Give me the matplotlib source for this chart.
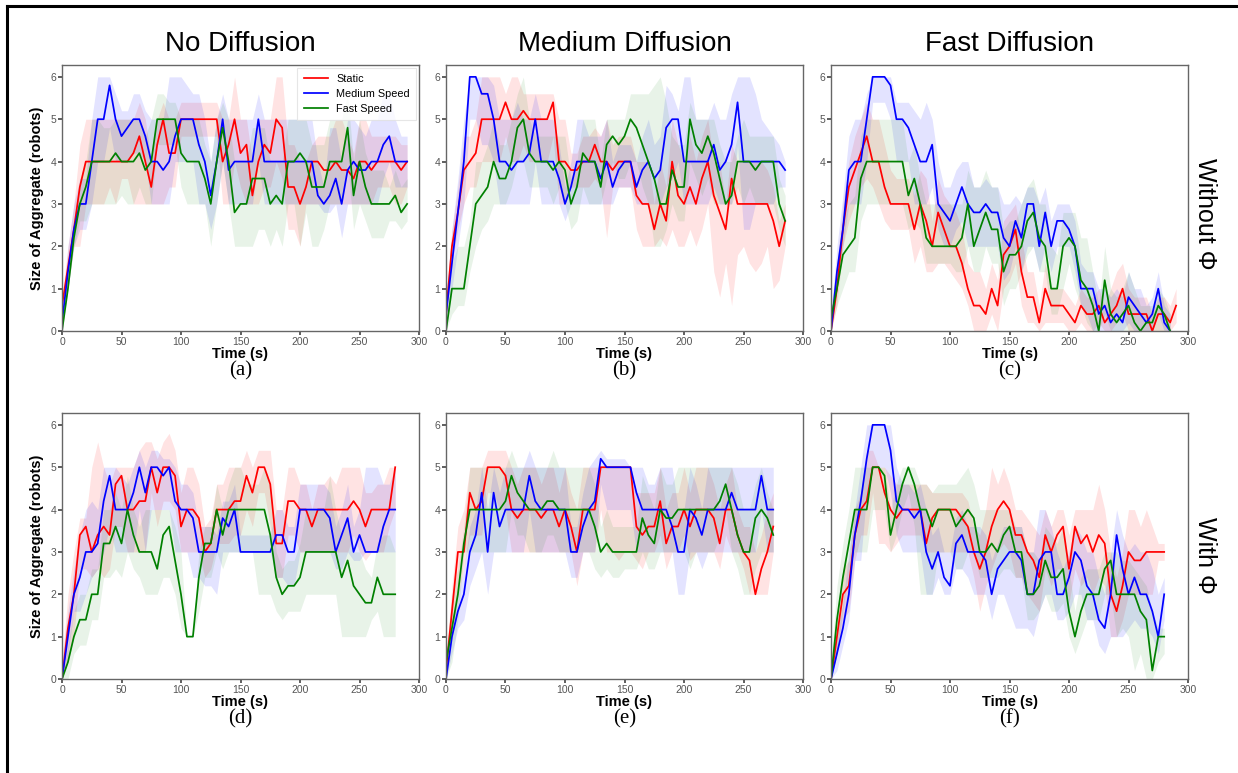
import numpy as np
import matplotlib
matplotlib.use('Agg')
import matplotlib.pyplot as plt
from matplotlib.lines import Line2D

plt.rcParams['font.family'] = ['Liberation Sans', 'DejaVu Sans']

# sampling interval of the runs (s)
step = 5

col_titles = ['No Diffusion', 'Medium Diffusion', 'Fast Diffusion']
row_titles = ['Without \u03a6', 'With \u03a6']
captions = ['(a)', '(b)', '(c)', '(d)', '(e)', '(f)']
series_names = ['Static', 'Medium Speed', 'Fast Speed']
x_ticks = [0, 50, 100, 150, 200, 250, 300]
y_ticks = [0, 1, 2, 3, 4, 5, 6]

# ---- (a) no diffusion, without phi : t = 0..290
a_static = [0.6, 1.5, 2.4, 3.4, 4, 4, 4, 4, 4, 4,
            4, 4, 4.2, 4.6, 4, 3.4, 4.4, 5, 4.2, 4.2,
            5, 5, 5, 5, 5, 5, 5, 4, 4.4, 5,
            4.2, 4.4, 3.2, 4, 4.4, 4.2, 5, 4.8, 3.4, 3.4,
            3, 3.4, 4, 4, 3.8, 3.8, 4, 3.8, 3.8, 3.6,
            4, 4, 3.8, 4, 4, 4, 4, 3.8, 4]
a_static_lo = [0.4, 1, 2, 2, 3, 3, 3, 3, 3.4, 3,
               3.6, 3.6, 3, 3, 3, 3, 3, 3, 3.4, 3.4,
               4.6, 4.6, 4.6, 4.6, 4.6, 4.6, 4.6, 3, 3, 4,
               3.4, 3, 3, 3, 3.4, 3.4, 4, 3.6, 2.4, 2.4,
               2, 3, 3, 3, 3, 3, 3, 3, 3, 3,
               3, 3, 3, 3.4, 3.4, 3.4, 3, 3, 3.4]
a_static_hi = [0.8, 2, 3, 4.4, 5, 5, 5, 5, 5, 5,
               5, 5, 5, 5.4, 5, 4, 5, 5.4, 5, 5,
               5.4, 5.4, 5.4, 5.4, 5.4, 5.4, 5.4, 5, 5, 6,
               5, 5, 4, 5, 5, 5, 6, 6, 4.4, 4.4,
               4, 4, 4.4, 4.6, 4.6, 4.6, 5, 5, 4.6, 4.2,
               5, 5, 4.6, 4.6, 4.6, 4.6, 4.6, 4.4, 4.4]
a_medium = [0.2, 1.4, 2.4, 3, 3, 4, 5, 5, 5.8, 5,
            4.6, 4.8, 5, 5, 4.6, 4, 4, 3.8, 4, 4.6,
            5, 5, 5, 4.4, 4, 3.2, 4, 5, 3.8, 4,
            4, 4, 4, 5, 4, 4, 4, 4, 4, 4,
            4, 4, 4, 3.2, 3, 3.2, 3.6, 3, 3.8, 4,
            3.8, 3.8, 4, 4, 4.4, 4.6, 4, 4, 4]
a_medium_lo = [0, 1, 2, 2.4, 2.4, 3, 4, 4, 4.8, 4,
               4, 4, 4.2, 4.2, 4, 3, 3, 3, 3, 4,
               4, 4, 4, 3, 3, 2.4, 3, 4, 3, 3,
               3, 3, 3, 4, 3, 3, 3, 3, 3, 3,
               3, 3, 3, 3, 2.8, 2.8, 3, 2.2, 3, 3,
               3, 3, 3, 3, 3.6, 4, 3.4, 3.4, 3.4]
a_medium_hi = [0.4, 2, 3, 3.6, 3.6, 5, 6, 6, 6, 5.6,
               5.2, 5.2, 5.6, 5.6, 5.2, 5, 5, 5, 6, 6,
               6, 5.8, 5.6, 5.6, 5, 4, 5, 5.6, 5, 5,
               5, 5, 5, 5.6, 5, 5, 5, 5, 5, 5,
               5, 5, 5, 4, 3.4, 4.8, 4.8, 4, 5, 5,
               4.8, 4.6, 5, 5, 5.6, 5.6, 5, 4.6, 4.6]
a_fast = [0, 1, 2.2, 3, 3.4, 4, 4, 4, 4, 4.2,
          4, 4, 4, 4.2, 3.8, 4, 5, 5, 5, 5,
          4.2, 4, 4, 4, 3.6, 3, 4, 4.8, 4, 2.8,
          3, 3, 3.6, 3.6, 3.6, 3, 3.2, 3, 4, 4,
          4.2, 4, 3.4, 3.4, 3.4, 4, 4, 4, 4.8, 3.2,
          4, 3.4, 3, 3, 3, 3, 3.2, 2.8, 3]
a_fast_lo = [0, 1, 2, 2.6, 2.6, 3, 3, 3, 3, 3,
             3.2, 3, 3, 3.4, 3, 3, 4.4, 4.4, 4.4, 4.4,
             3.4, 3, 3, 3, 3, 2, 3, 4, 3, 2,
             2, 2, 2, 2.4, 2.4, 2, 2.4, 2, 3, 3,
             2, 2.8, 2, 2, 2.4, 3, 3, 3, 4, 2.4,
             3, 2.6, 2.2, 2.2, 2.2, 2.6, 2.6, 2.4, 2.6]
a_fast_hi = [0.4, 1.4, 2.6, 3.6, 4, 5, 5, 4.8, 4.8, 5,
             5, 5, 5, 5, 4.6, 5, 5.6, 5.6, 5.4, 5.4,
             5, 5, 5, 5, 4.4, 4, 5, 5.4, 5, 4,
             4, 4, 4.8, 4.8, 4.8, 4, 4, 4, 5, 5,
             5, 5, 4.4, 4.4, 4.4, 5, 5, 5, 5.6, 4,
             5, 4.2, 3.8, 3.8, 3.8, 3.4, 3.8, 3.4, 3.6]

# ---- (b) medium diffusion, without phi : t = 0..285
b_static = [0.4, 2, 2.8, 3.8, 4, 4.2, 5, 5, 5, 5,
            5.4, 5, 5, 5.2, 5, 5, 5, 5, 5.4, 4,
            4, 3.8, 3.8, 4, 4, 4.4, 4, 4, 3.8, 4,
            4, 4, 3.2, 3, 3, 2.4, 3, 2.6, 4, 3.2,
            3, 3.4, 3, 3.6, 4, 3.2, 2.8, 2.4, 3.6, 3,
            3, 3, 3, 3, 3, 2.6, 2, 2.6]
b_static_lo = [0.2, 1.6, 2.4, 3, 3.4, 3.4, 4, 4, 4, 4,
               4.6, 4, 4, 4.4, 4, 4, 4, 4, 4.6, 3,
               3, 3.4, 3.4, 3.4, 3.4, 3.6, 3.4, 2.2, 3.4, 3.4,
               3.4, 3.4, 2.4, 2, 2, 2, 2.2, 2, 2.4, 2,
               2, 2.4, 2, 2.4, 3, 1.4, 0.8, 1.6, 0.6, 1.8,
               2, 1.6, 1.4, 1.6, 2, 1, 1.2, 2]
b_static_hi = [0.6, 2.4, 3.4, 4.6, 4.6, 5, 6, 6, 6, 6,
               5.6, 6, 6, 5.6, 5.6, 5.6, 5.6, 5.6, 5.6, 5,
               5, 4.2, 4.2, 4.6, 4.6, 4.8, 4.6, 5, 4.4, 4.6,
               4.6, 4.6, 4, 4, 4, 3, 4, 3.4, 5, 4.4,
               4, 4.6, 4, 4.6, 5, 4, 4, 3, 4.4, 4,
               4, 4, 4, 4, 3.8, 3.4, 2.6, 3]
b_medium = [0.4, 1.6, 2.8, 4, 6, 6, 5.6, 5.6, 5, 4,
            4, 3.8, 4, 4, 4.2, 5, 4, 4, 4, 3.6,
            3, 3.4, 4, 4, 4, 4, 3.6, 4, 3.4, 3.8,
            4, 4, 3.4, 3.8, 4, 3.6, 3.8, 4.8, 5, 5,
            4, 4, 4, 4, 4, 4.4, 3.8, 4, 4.4, 5.4,
            4, 4, 4, 4, 4, 4, 4, 3.8]
b_medium_lo = [0, 1, 2, 3, 5, 5, 4.4, 4.4, 4, 3,
               3, 3, 3, 3, 3, 4, 3, 3, 3, 3,
               2.6, 3, 3, 3, 3, 3, 3, 3, 3, 3.4,
               3.4, 3.4, 3, 3, 3, 3, 3, 3.4, 3.6, 4,
               3, 3, 3, 3, 3, 3.4, 3, 3, 3, 4.4,
               2.4, 2.4, 3, 3, 3, 3, 3.4, 3.4]
b_medium_hi = [0.8, 2.4, 3.6, 5, 6, 6, 6, 6, 5.8, 5,
               5, 5, 5.4, 5, 5, 5.6, 5, 5, 5, 4.4,
               3.4, 4, 5, 5, 4.6, 4.6, 4.6, 5, 4, 4.4,
               4.4, 4.4, 4, 4.6, 5, 4.4, 4.6, 5.8, 5.6, 5.2,
               6, 6, 5, 5, 5, 5.4, 5, 5, 5.6, 6,
               6, 6, 5.6, 5, 4.8, 4.6, 4.4, 4]
b_fast = [0, 1, 1, 1, 2, 3, 3.2, 3.4, 4, 3.6,
          3.6, 4, 4.8, 5, 4.2, 4, 4, 4, 3.8, 4,
          3.8, 3, 3.4, 4.2, 4, 4, 3.4, 4.4, 4.6, 4.4,
          4.6, 5, 4.8, 4.4, 4, 3.6, 3, 3, 3.8, 3.4,
          3.4, 5, 4.4, 4.2, 4.6, 4.2, 3.6, 3, 3.2, 4,
          4, 4, 3.8, 4, 4, 4, 3, 2.6]
b_fast_lo = [0, 0.4, 0.6, 0.6, 1.4, 2, 2.4, 2.6, 3, 3,
             3, 3.4, 4, 4, 3.4, 3.4, 3.4, 3.4, 3, 3.4,
             3, 2.4, 2.6, 3.4, 3, 3, 3, 3.6, 4, 3.6,
             3.6, 4, 4, 3.4, 3, 2, 2, 2.4, 3, 2.6,
             2.6, 4, 3.6, 3.2, 3.6, 3, 3, 3, 3, 3.4,
             3, 3.4, 3, 3, 3, 3, 2.4, 2]
b_fast_hi = [0.4, 1.6, 2, 2, 2.6, 4, 4, 4.4, 5, 4.4,
             4.4, 5, 5.6, 6, 5, 4.6, 4.6, 4.6, 4.6, 4.6,
             4.6, 3.6, 4, 5, 5, 5, 4, 5, 5, 5,
             5, 5.6, 5.6, 5.6, 5.6, 5.8, 6, 5.4, 4.6, 4.4,
             4.4, 5.4, 5, 5, 5, 5, 4.4, 4, 4, 4.6,
             5, 4.6, 4.6, 4.6, 4.6, 4.6, 3.6, 3.2]

# ---- (c) fast diffusion, without phi : t = 0..290 / 0..285
c_static = [0, 1, 2.4, 3.4, 3.8, 4.2, 4.6, 4, 4, 3.4,
            3, 3, 3, 3, 2.4, 3, 2.6, 2, 2.8, 2.4,
            2, 2, 1.6, 1, 0.6, 0.6, 0.4, 1, 0.6, 1.8,
            2, 2.4, 1.4, 0.8, 0.8, 0.2, 1, 0.6, 0.6, 0.6,
            0.4, 0.2, 0.6, 0.4, 0.4, 0.6, 0.2, 0.4, 0.6, 1,
            0.4, 0.4, 0.4, 0.4, 0, 0.4, 0.4, 0.2, 0.6]
c_static_lo = [0, 0.6, 2, 2.6, 3, 3.4, 3.6, 3.4, 3, 2.6,
               2.4, 2.4, 2.4, 2.4, 1.6, 2, 1.4, 1.4, 1.6, 1.6,
               1.4, 1.2, 1, 0.6, 0, 0, 0, 0.4, 0, 1,
               1.2, 1.6, 0.6, 0.2, 0.2, 0, 0.2, 0.2, 0.2, 0.2,
               0, 0, 0.2, 0, 0, 0.2, 0, 0, 0.2, 0.4,
               0, 0, 0, 0, 0, 0, 0, 0, 0.2]
c_static_hi = [0.4, 1.6, 3, 4, 4.6, 5, 5.4, 5, 5, 4.4,
               3.8, 3.6, 3.6, 3.6, 3.2, 3.8, 3.6, 2.6, 3.6, 3.2,
               3, 2.8, 2.4, 1.6, 1.4, 1.4, 1, 1.6, 1.2, 2.6,
               2.8, 3, 2.2, 1.4, 1.4, 0.6, 1.6, 1, 1, 1,
               0.8, 0.6, 1, 0.8, 0.8, 1, 0.6, 1, 1.4, 1.6,
               1, 0.8, 0.8, 0.8, 0.4, 0.8, 0.8, 0.6, 1]
c_medium = [0, 1.4, 2.4, 3.8, 4, 4, 5, 6, 6, 6,
            5.8, 5, 5, 4.8, 4.4, 4, 4, 4.4, 3, 2.8,
            2.6, 3, 3.4, 3, 2.8, 2.8, 3, 2.8, 2.8, 2.2,
            2, 2.6, 2.2, 3, 3, 2, 2.8, 2, 2.6, 2.6,
            2.4, 2, 1, 1, 1, 0.4, 0.6, 0.2, 0.4, 0.2,
            0.8, 0.6, 0.4, 0.2, 0.4, 1, 0.2, 0]
c_medium_lo = [0, 1, 2, 3, 3, 3, 4, 5.4, 5.4, 5.4,
               5, 4, 4, 4, 3, 3, 3, 3.4, 2.4, 2,
               2, 2.4, 2.6, 2, 2, 2, 2, 2, 2, 1.2,
               1.4, 2, 1.4, 2, 2, 1.4, 2, 1.4, 2, 2,
               2, 1.4, 0.6, 0.4, 0, 0, 0, 0, 0, 0,
               0.2, 0, 0, 0, 0, 0.4, 0, 0]
c_medium_hi = [0.4, 2, 3.2, 4.6, 5, 5, 5.6, 6, 6, 6,
               6, 5.4, 5.4, 5.4, 5.2, 5, 5.4, 5, 4, 3.4,
               3.4, 3.8, 4, 4, 3.4, 3.4, 3.6, 3.4, 3.4, 3,
               3, 3.2, 3, 3.4, 3.4, 3, 3.4, 2.6, 3, 3,
               3, 2.6, 1.6, 1.4, 1.4, 1, 1, 0.8, 1, 0.8,
               1.4, 1, 1, 0.6, 0.8, 1.4, 0.6, 0.4]
c_fast = [0.3, 1, 1.8, 2, 2.2, 3.6, 4, 4, 4, 4,
          4, 4, 4, 3.2, 3.6, 3, 2.2, 2, 2, 2,
          2, 2, 2.2, 3, 2, 2.4, 2.8, 2.4, 2.4, 1.4,
          1.8, 1.8, 2, 2.6, 2.8, 2.2, 2, 1, 1, 2,
          2.2, 2, 1.2, 1, 0.6, 0, 1.2, 0.4, 0.2, 0.4,
          0.6, 0.2, 0, 0.2, 0.2, 0.6, 0.4, 0]
c_fast_lo = [0, 0.6, 1, 1.4, 1.4, 2.6, 3, 3, 3, 3,
             3, 3, 3, 2.4, 2.6, 2.4, 1.6, 1.6, 1.6, 1.6,
             1.6, 1.4, 1.4, 2, 1.4, 1.4, 2, 1.6, 1.6, 0.6,
             1, 1, 1.4, 1.8, 2, 1.4, 1.4, 0.4, 0.4, 1,
             1.6, 1, 0.6, 0.2, 0, 0, 0.4, 0, 0, 0,
             0, 0, 0, 0, 0, 0, 0, 0]
c_fast_hi = [0.6, 1.6, 2.6, 3, 3.2, 4.6, 5, 5, 5, 5,
             5, 5, 5, 4, 4.4, 3.6, 3, 3, 3, 3,
             3, 3, 3, 3.8, 3.4, 3.4, 3.8, 3.4, 3.4, 2.4,
             2.6, 2.6, 3, 3.4, 3.6, 3, 3, 2, 1.8, 2.8,
             2.8, 2.8, 2.2, 2.2, 1.4, 0.6, 2, 1, 0.8, 1,
             1.4, 1, 0.6, 0.6, 0.6, 1, 0.8, 0.4]

# ---- (d) no diffusion, with phi : t = 0..280
d_static = [0, 1.2, 2, 3.4, 3.6, 3, 3.4, 3.6, 3.4, 4.6,
            4.8, 4, 4, 4.2, 4.2, 5, 4.4, 5, 5, 4.8,
            3.6, 4, 4, 3.8, 3, 3.2, 4, 4, 4, 4.2,
            4.2, 4.8, 4.4, 5, 5, 4.6, 3.2, 3.2, 4.2, 4.2,
            4, 4, 3.6, 4, 4, 4, 4, 4, 4, 4.2,
            4, 3.6, 4, 4, 4, 4, 5]
d_static_lo = [0, 0.4, 1, 2.6, 2.6, 2.4, 2.6, 2.4, 2.6, 3.6,
               3.6, 3, 3, 3, 3, 4.4, 3.6, 4.2, 4.2, 4,
               3, 3, 3, 3, 2.4, 2.6, 3.2, 3.2, 3.2, 3.4,
               3.4, 4, 3.6, 4.4, 4.4, 3.6, 2.4, 2.4, 3.4, 3.4,
               3, 3, 3, 3, 3, 3, 3, 3, 3, 3.4,
               3, 2.8, 3, 3, 3, 3.6, 4]
d_static_hi = [0.4, 2, 3, 3.8, 3.8, 5, 5.6, 5, 4.6, 5,
               5, 5, 5, 5.4, 5.6, 5.6, 5.2, 5.6, 5.8, 5.4,
               4.4, 5, 5, 4.6, 3.6, 3.8, 4.6, 4.6, 5, 5,
               5, 5.4, 5, 5.4, 5.4, 5.4, 4, 4, 5, 5,
               4.6, 4.6, 4, 4.6, 4.6, 4.8, 4.6, 5, 5, 5,
               5, 4.4, 4.4, 4.6, 4.6, 5, 5]
d_medium = [0, 1, 2, 2.4, 3, 3, 3.2, 4.2, 4.8, 4,
            4, 4, 4.4, 5, 4.4, 5, 5, 4.8, 5, 4.2,
            4, 4, 3.8, 3, 3, 3, 3, 3.8, 3.6, 4,
            3, 3, 3, 3, 3, 3, 3.4, 3.4, 3, 3,
            4, 4, 4, 4, 4, 3.8, 3, 3.4, 3.8, 3,
            3.4, 3, 3, 3, 3.6, 4, 4]
d_medium_lo = [0, 0.6, 1.6, 1.6, 2, 2.4, 2.6, 3, 3.6, 3,
               3, 3, 3, 4, 3, 4, 4, 4, 4, 3,
               3, 3, 2.4, 2.4, 2.2, 2.2, 2, 3, 3, 3,
               3, 3, 3, 3, 3, 3, 2.4, 2.4, 2.2, 2.2,
               3, 3, 3, 3, 3, 3, 2.6, 2.6, 3, 2.8,
               2.8, 3, 3, 3, 3, 3, 3]
d_medium_hi = [0.4, 1.6, 2.6, 3.4, 4, 4.2, 4, 5, 5, 5,
               4.8, 4.6, 5, 5.4, 5, 5.4, 5.4, 5.2, 5.2, 5,
               4.6, 4.6, 4.4, 3.6, 3.6, 3.6, 3.4, 4.2, 4.2, 4.6,
               3.4, 3.4, 3.4, 3.4, 3.4, 3.4, 4, 4, 3.6, 3.6,
               4.6, 4.6, 4.6, 4.6, 4.6, 4.4, 3.6, 4, 4.6, 3.6,
               4, 5, 5, 5, 4.6, 4.6, 5]
d_fast = [0, 0.4, 1, 1.4, 1.4, 2, 2, 3.2, 3.2, 3.6,
          3.2, 4, 3.4, 3, 3, 3, 2.6, 3.4, 3.6, 2.8,
          2, 1, 1, 2.4, 3.2, 3.2, 4, 3.4, 4, 4,
          4, 4, 4, 4, 4, 3.4, 2.4, 2, 2.2, 2.2,
          2.4, 3, 3, 3, 3, 3, 3, 2.4, 2.8, 2.2,
          2, 1.8, 1.8, 2.4, 2, 2, 2]
d_fast_lo = [0, 0, 0.6, 0.8, 0.8, 1.4, 1.4, 2.4, 2.4, 2.6,
             2.4, 3, 2.6, 2.4, 2, 2, 2, 2.4, 2.4, 2,
             1.2, 1, 1, 1.6, 2.4, 2.4, 3, 2.6, 3, 3,
             3, 3, 3, 2, 2, 2, 1.6, 1.4, 1.6, 1.6,
             1.6, 2, 2, 2, 2, 2, 2, 1, 1, 1,
             1, 1, 1.4, 1.6, 1, 1, 1]
d_fast_hi = [0, 0.8, 1.6, 2, 2, 2.6, 2.6, 4, 4, 4.4,
             4, 4.8, 4, 3.6, 4, 4, 4, 4, 4, 3.6,
             3, 1, 1, 3, 3.6, 3.6, 4.6, 4, 4.6, 5,
             5, 4.6, 4.6, 4.6, 5, 4.6, 3, 2.6, 2.8, 2.8,
             3.2, 4, 4, 4, 4, 4.8, 4, 3.4, 3.8, 3,
             3, 2.6, 2.4, 3.2, 3.4, 3.4, 3]

# ---- (e) medium diffusion, with phi : t = 0..275
e_static = [0.2, 1.6, 3, 3, 4.4, 4, 4.2, 5, 5, 5,
            4.8, 4, 3.8, 4, 4, 4, 3.8, 4, 4, 3.6,
            4, 3.6, 3, 4, 4, 4, 5, 5, 5, 5,
            5, 5, 3.6, 3.4, 3.6, 3.6, 4.2, 3.2, 3.6, 3.6,
            4, 3.6, 4, 4, 4, 3.8, 3.2, 4, 4, 3.4,
            3, 2.8, 2, 2.6, 3, 3.6]
e_static_lo = [0, 1, 2, 2.6, 3.4, 3.4, 3.4, 4.4, 4.4, 4,
               4, 3, 3, 3, 3, 3, 3, 3, 3, 3,
               3, 3, 2.2, 3, 3, 3, 4, 3, 3, 2.8,
               3, 3, 2.8, 2.6, 3, 3, 3.4, 2.6, 3, 3,
               3.4, 2.8, 3, 3, 3, 3, 2.6, 3.4, 3, 3,
               2.6, 2, 2, 2, 2, 3]
e_static_hi = [0.4, 2.2, 3.6, 4, 5, 5, 5, 5.4, 5.4, 5.4,
               5.4, 5, 4.6, 5, 5, 5, 4.6, 5, 5, 4.4,
               5, 4.4, 4, 5, 5, 5, 5, 5, 5, 5,
               5, 5, 4.4, 4.4, 4.4, 4.4, 5, 4, 4.4, 4.4,
               5, 4.4, 5, 5, 5, 4.6, 4, 4.6, 5, 4,
               3.6, 3.6, 3, 3.4, 4, 4.4]
e_medium = [0, 1, 1.6, 2, 3, 3.4, 4.4, 3, 4.4, 3.6,
            4, 4, 4, 4, 4.8, 4.2, 4, 4, 4, 4,
            4, 3, 3, 3.6, 4, 4.2, 5.2, 5, 5, 5,
            5, 5, 4.4, 4, 4, 4, 4, 4, 3.6, 3,
            3, 4, 3.8, 3.4, 4, 4, 4, 4, 4.4, 4,
            4, 4, 4, 4.8, 4, 4]
e_medium_lo = [0, 0.6, 1.2, 1.4, 2.2, 2.6, 3, 2, 3, 3,
               3, 3, 3, 3, 4, 3, 3, 3, 3, 3,
               3, 2.4, 2.4, 3, 3, 3, 4.6, 4, 4, 4,
               4, 4, 3, 3, 3, 3, 3, 3, 3, 2,
               2, 3, 3, 2.6, 3, 3, 3, 3, 3, 3,
               3, 3, 3, 4, 3, 3]
e_medium_hi = [0.4, 1.4, 2, 2.6, 3.6, 4, 5, 4, 5, 4.4,
               5, 5, 5, 5, 5.4, 5, 5, 5, 5, 5,
               5, 3.6, 3.6, 4.4, 5, 5.2, 5.4, 5.2, 5.2, 5.2,
               5.2, 5, 5, 5, 4.6, 4.6, 5, 5, 5, 4,
               4, 5, 4.6, 4, 5, 5, 5, 5, 5, 5,
               5, 5, 5, 5, 5, 5]
e_fast = [0.4, 1.2, 2, 3.2, 4, 4, 4, 4, 4, 4,
          4.2, 4.8, 4.4, 4.2, 4, 4, 4, 4.2, 4.2, 4,
          4, 4, 4, 4, 4, 3.6, 3, 3.2, 3, 3,
          3, 3, 3, 3.8, 3.4, 3.2, 4, 3.8, 3.8, 4,
          4, 4, 4, 4, 4, 4, 4.2, 4.6, 4, 3.4,
          3, 3, 3.8, 4, 3.8, 3.4]
e_fast_lo = [0, 0.4, 1.4, 3, 3, 3, 3, 3, 3, 3,
             3, 4, 3.4, 3.4, 3, 3, 3, 3.4, 3.4, 3,
             3, 3, 3, 3, 3, 2.6, 2.4, 2.6, 2.4, 2.4,
             2.6, 2.6, 2.6, 3, 2.6, 2.6, 3, 3, 3, 3,
             3, 2.6, 3, 3, 3, 3, 3.4, 4, 3, 2.6,
             2, 2, 2.6, 3, 3, 3]
e_fast_hi = [0.6, 2, 2.6, 3.6, 5, 5, 5, 5, 5, 5,
             5, 5.4, 5, 5, 5, 5, 5, 5, 5.4, 5,
             5, 5, 5, 5, 5, 4.6, 3.6, 4, 3.6, 3.6,
             3.6, 3.6, 3.6, 4.8, 4.4, 4, 5, 4.6, 4.6, 5,
             5, 5, 5, 5, 5, 5, 5, 5, 5, 4.6,
             4, 4, 4.6, 5, 4.4, 4]

# ---- (f) fast diffusion, with phi : t = 0..280
f_static = [0, 1, 2, 2.2, 3.4, 4, 4.2, 5, 5, 4.4,
            4, 3.8, 4, 4, 4, 4, 3.2, 3.8, 4, 4,
            4, 4, 3.8, 3.6, 3, 2.6, 3, 3.6, 4, 4.2,
            4, 3.4, 3.4, 3, 2.8, 2.4, 3.4, 3, 3.4, 3.6,
            2.6, 3.6, 3.2, 3.4, 3, 3.4, 3.2, 2, 1.6, 2.2,
            3, 2.8, 2.8, 3, 3, 3, 3]
f_static_lo = [0, 0.6, 1.4, 1.6, 2.8, 3.4, 3.4, 4.4, 3.2, 3.2,
               3, 3.2, 3.4, 3.4, 3.4, 3.4, 3, 3, 3, 3,
               3, 3, 3, 3, 2.4, 1.6, 2.2, 2.6, 3, 3.2,
               3, 2.4, 2.4, 2, 1.8, 1.6, 2.6, 2.2, 2.6, 2.6,
               1.8, 2.6, 2.2, 2.4, 2, 2.4, 2.2, 1, 1, 1.4,
               2, 2, 2, 2, 2, 2.8, 2.8]
f_static_hi = [0.4, 1.4, 2.6, 2.8, 4, 4.4, 5.4, 5.4, 5, 5,
               4.8, 4.6, 4.6, 4.6, 4.6, 4.6, 4.6, 4.4, 4.4, 4.4,
               4.4, 4.4, 4.4, 4.2, 3.6, 3.4, 4, 5, 4.6, 5,
               4.6, 4, 4, 3.8, 3.6, 3.4, 4, 3.6, 4, 4,
               3.4, 4, 4, 4, 4, 4.6, 4, 3, 2.4, 3,
               4, 4, 3.6, 4, 3.6, 3.2, 3.2]
f_medium = [0, 0.6, 1.2, 2, 3.4, 4.2, 5.2, 6, 6, 6,
            5.4, 4.2, 4, 4, 3.8, 4, 3, 2.6, 3, 2.4,
            2.2, 3.2, 3.4, 3, 3, 3, 2.8, 2, 2.6, 2.8,
            3, 3, 2.8, 2, 2, 2.8, 3, 3, 2, 2,
            2.4, 3, 2.8, 2.2, 2, 1.4, 1.2, 2, 3.4, 2.6,
            2, 2.4, 2, 2, 1.6, 1, 2]
f_medium_lo = [0, 0.2, 0.8, 1.4, 2.8, 2.8, 4.4, 5, 5, 5,
               4.4, 3.4, 3, 3, 3, 3, 2, 2, 2.4, 2,
               2, 2.6, 2.6, 2.4, 2, 2, 2, 1.4, 2, 2,
               1.6, 1.2, 1.2, 1.2, 1, 1.6, 2, 2, 1.4, 1.4,
               1.6, 2, 2, 1.4, 1.4, 0.8, 0.6, 1, 1, 1,
               1.2, 1.4, 1.2, 1.2, 1, 0.6, 1.4]
f_medium_hi = [0.4, 1, 1.8, 3, 4, 5, 6, 6, 6, 6,
               6, 5, 4.6, 4.6, 4.4, 4.6, 4, 3.4, 3.6, 3,
               3, 3.8, 4, 3.6, 3.6, 3.6, 3.4, 2.8, 3.2, 3.6,
               3.6, 3.6, 3.6, 3, 3, 4, 4, 3.6, 3, 2.6,
               3, 3.6, 3.4, 3, 3, 2.4, 2, 3, 4, 3.4,
               3, 3.2, 3, 3, 2.6, 2, 2.4]
f_fast = [0, 1.4, 2.4, 3.2, 4, 4, 4, 5, 5, 4.8,
          3.4, 4, 4.6, 5, 4.6, 4, 4, 3.6, 4, 4,
          4, 3.6, 3.8, 4, 3.8, 3, 3, 3.2, 3, 3.4,
          3.6, 3, 3, 2, 2, 2.2, 2.8, 2.4, 2.4, 2.6,
          1.6, 1, 1.6, 2, 2, 2, 2.6, 2.8, 2, 2,
          2, 2, 1.6, 1.4, 0.2, 1, 1]
f_fast_lo = [0, 0.6, 1.6, 2.6, 3, 3, 3, 4, 4, 4,
             3, 3.4, 4, 4.4, 3.6, 2, 2, 2, 3, 3,
             3, 2.6, 2.6, 3, 3, 2.4, 2.4, 2.4, 2.4, 2.6,
             2.6, 2.4, 2.4, 1.4, 1.4, 1.6, 2, 1.6, 1.6, 1.8,
             1, 0.6, 1, 1.4, 1.4, 1.4, 2, 2, 1, 1.2,
             1, 0.2, 0.6, 0, 0, 0.4, 0.6]
f_fast_hi = [0.4, 2.2, 3.2, 4, 5, 5, 5, 5, 5, 5,
             4, 4.6, 5, 5, 5, 4.6, 4.6, 4.4, 4.6, 4.6,
             4.6, 4.6, 4.8, 5, 4.6, 4, 4, 4, 4, 4,
             4, 3.6, 3.6, 3, 3, 2.8, 3.6, 3.4, 3.2, 3.6,
             2.6, 1.6, 2.4, 2.6, 2.6, 2.6, 3, 3, 3, 2.8,
             2.8, 2.6, 2.4, 2.2, 1.6, 1.2, 1.2]

panels = [
    [(a_static, a_static_lo, a_static_hi), (a_medium, a_medium_lo, a_medium_hi), (a_fast, a_fast_lo, a_fast_hi)],
    [(b_static, b_static_lo, b_static_hi), (b_medium, b_medium_lo, b_medium_hi), (b_fast, b_fast_lo, b_fast_hi)],
    [(c_static, c_static_lo, c_static_hi), (c_medium, c_medium_lo, c_medium_hi), (c_fast, c_fast_lo, c_fast_hi)],
    [(d_static, d_static_lo, d_static_hi), (d_medium, d_medium_lo, d_medium_hi), (d_fast, d_fast_lo, d_fast_hi)],
    [(e_static, e_static_lo, e_static_hi), (e_medium, e_medium_lo, e_medium_hi), (e_fast, e_fast_lo, e_fast_hi)],
    [(f_static, f_static_lo, f_static_hi), (f_medium, f_medium_lo, f_medium_hi), (f_fast, f_fast_lo, f_fast_hi)],
]
colors = ['#ff0000', '#0000ff', '#008000']
band_alpha = [0.11, 0.11, 0.09]

W_PX, H_PX = 1238, 773
fig = plt.figure(figsize=(W_PX / 100, H_PX / 100), dpi=100)

# axes boxes in pixels
col_left = [62, 446, 831]
row_top = [65, 413]
ax_w, ax_h = 357, 266
spine_col = '#666666'

axes = []
for i, panel in enumerate(panels):
    r, c = divmod(i, 3)
    ax = fig.add_axes([col_left[c] / W_PX, 1 - (row_top[r] + ax_h) / H_PX,
                       ax_w / W_PX, ax_h / H_PX])
    axes.append(ax)
    # bands first, lines on top
    for (y, lo, hi), col, alp in zip(panel, colors, band_alpha):
        if not (len(y) == len(lo) == len(hi)):
            raise ValueError(f'panel {captions[i]}: {len(y)} {len(lo)} {len(hi)}')
        t = np.arange(len(y)) * step
        ax.fill_between(t, lo, hi, color=col, alpha=alp, lw=0)
    for (y, lo, hi), col, name in zip(panel, colors, series_names):
        t = np.arange(len(y)) * step
        ax.plot(t, y, color=col, lw=1.25, label=name)

    ax.set_xlim(0, 300)
    ax.set_ylim(0, 6.28)
    ax.set_xticks(x_ticks)
    ax.set_yticks(y_ticks)
    ax.tick_params(direction='out', length=3, width=1.1, color='#333333',
                   labelsize=7.5, labelcolor='#555555', pad=1)
    for s in ax.spines.values():
        s.set_color(spine_col)
        s.set_linewidth(1.0)
    ax.set_xlabel('Time (s)', fontsize=10.5, fontweight='bold', labelpad=0)
    if c == 0:
        ax.set_ylabel('Size of Aggregate (robots)', fontsize=10.5, fontweight='bold')
        ax.yaxis.set_label_coords(-0.05, 0.5)
    if i == 0:
        leg = ax.legend(loc='upper right', fontsize=7.8, handlelength=2.2,
                        borderaxespad=0.25, frameon=True, fancybox=False,
                        labelspacing=0.45, borderpad=0.6)
        leg.get_frame().set_edgecolor('#e0e0e0')
        leg.get_frame().set_linewidth(0.8)

# captions just under each "Time (s)" label
fig.canvas.draw()
renderer = fig.canvas.get_renderer()
for i, ax in enumerate(axes):
    r, c = divmod(i, 3)
    bb = ax.xaxis.label.get_window_extent(renderer)
    cx = (col_left[c] + ax_w / 2) / W_PX
    fig.text(cx, (bb.y0 - 1) / H_PX, captions[i], ha='center', va='top',
             fontsize=15, family='Liberation Serif')

# column titles
for c, title in enumerate(col_titles):
    cx = (col_left[c] + ax_w / 2) / W_PX
    fig.text(cx, 1 - 44 / H_PX, title, ha='center', va='center', fontsize=20)

# row labels on the right
for yc, label in zip([214, 555], row_titles):
    fig.text(1205 / W_PX, 1 - yc / H_PX, label, ha='center', va='center',
             rotation=270, fontsize=18)

# frame lines at top and left of the figure
fig.add_artist(Line2D([7 / W_PX, 1], [1 - 6 / H_PX, 1 - 6 / H_PX],
                      transform=fig.transFigure, color='black', lw=2.2))
fig.add_artist(Line2D([7 / W_PX, 7 / W_PX], [0, 1 - 6 / H_PX],
                      transform=fig.transFigure, color='black', lw=2.2))

fig.savefig('out.png', dpi=100)
